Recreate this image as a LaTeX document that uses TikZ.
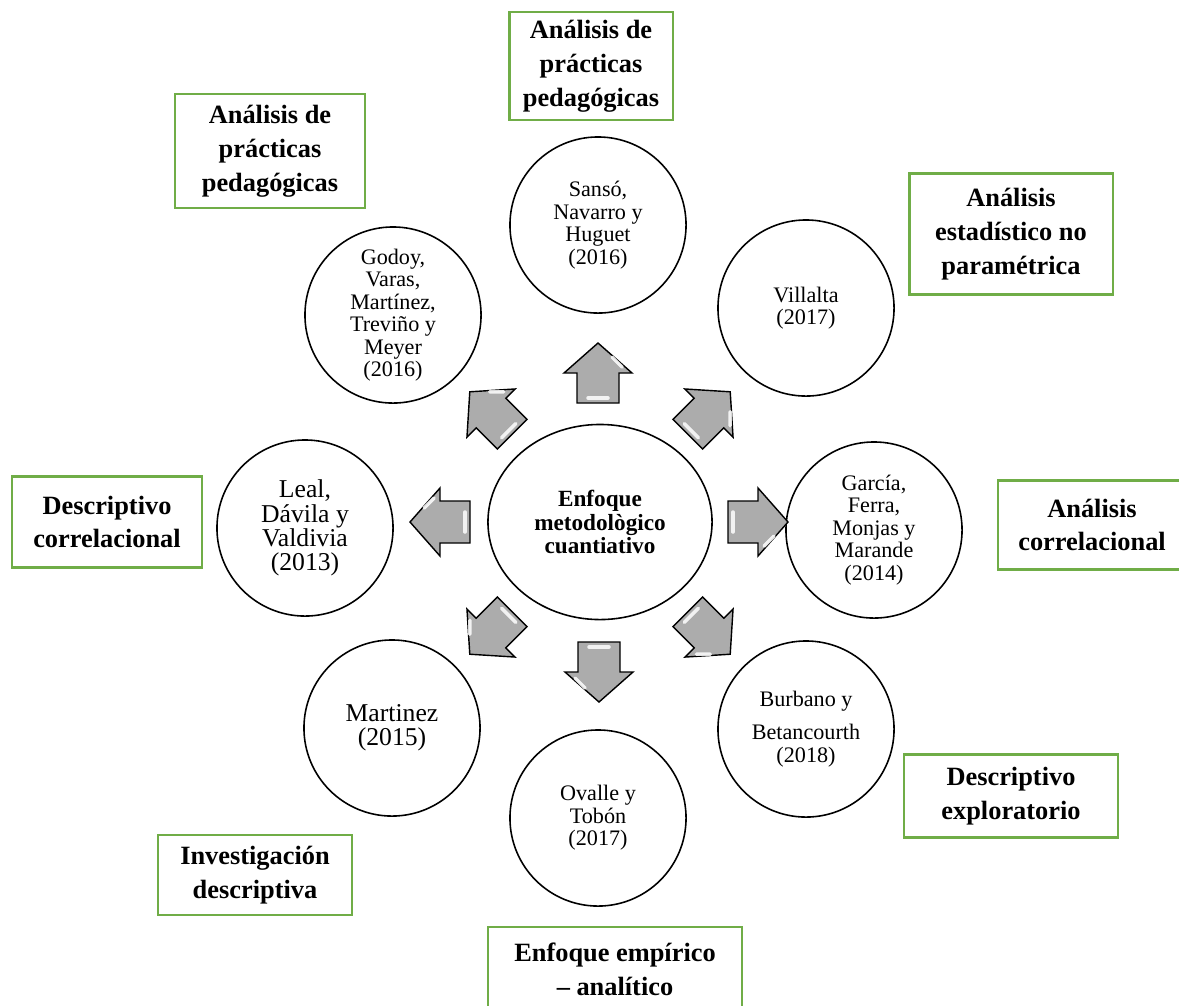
\documentclass[tikz,border=0pt]{standalone}
\usepackage{fontspec}
\setmainfont{Liberation Serif}
\usetikzlibrary{shapes.geometric}
\definecolor{cajaverde}{RGB}{112,173,71}
\definecolor{grisflecha}{RGB}{172,172,172}

\tikzset{
  autor/.style={circle, draw, line width=0.45pt, minimum size=1.76cm, inner sep=0pt, align=center, font=\fontsize{6.3}{6.4}\selectfont},
  autorgrande/.style={autor, font=\fontsize{7.3}{6.9}\selectfont},
  centro/.style={ellipse, draw, line width=0.45pt, minimum width=2.24cm, minimum height=1.95cm, inner sep=0pt, align=center, font=\bfseries\fontsize{6.6}{6.7}\selectfont},
  caja/.style={draw=cajaverde, line width=0.6pt, inner sep=0pt, align=center, font=\bfseries\fontsize{7.5}{9.6}\selectfont},
  flecha/.pic={
    \draw[fill=grisflecha, line width=0.4pt] (-30,-21) -- (0,-21) -- (0,-34) -- (30,0) -- (0,34) -- (0,21) -- (-30,21) -- cycle;
    \draw[white, opacity=0.85, line width=1pt, line cap=round] (-25,-10) -- (-25,10);
    \draw[white, opacity=0.85, line width=1pt, line cap=round] (6,24) -- (16,14);
  }
}

\begin{document}
\begin{tikzpicture}[x=0.01cm, y=-0.01cm]
  \useasboundingbox (0,0) rectangle (1179,1005);

  % centro y autores
  \node[centro] (enfoque) at (600,522) {Enfoque\\metodològico\\cuantiativo};
  \node[autor] (sanso) at (598,225) {Sansó,\\Navarro y\\Huguet\\(2016)};
  \node[autor] (godoy) at (393,315) {Godoy,\\Varas,\\Martínez,\\Treviño y\\Meyer\\(2016)};
  \node[autor] (villalta) at (806,308) {Villalta\\(2017)};
  \node[autorgrande] (leal) at (305,528) {Leal,\\Dávila y\\Valdivia\\(2013)};
  \node[autor] (garcia) at (874,530) {García,\\Ferra,\\Monjas y\\Marande\\(2014)};
  \node[autorgrande] (martinez) at (392,728) {Martinez\\(2015)};
  \node[autor] (ovalle) at (598,818) {Ovalle y\\Tobón\\(2017)};
  \node[autor] (burbano) at (806,729) {Burbano y\\[3pt]Betancourth\\(2018)};

  % flechas
  \pic[rotate=90] at (598,373) {flecha};
  \pic[rotate=135] at (491,413) {flecha};
  \pic[rotate=45] at (709,413) {flecha};
  \pic[rotate=180] at (440,522) {flecha};
  \pic[rotate=0] at (758,522) {flecha};
  \pic[rotate=225] at (491,633) {flecha};
  \pic[rotate=270] at (599,672) {flecha};
  \pic[rotate=315] at (709,633) {flecha};

  % cajas
  \node[caja, minimum width=1.63cm, minimum height=1.08cm] (cajasup) at (591,66) {Análisis de\\prácticas\\pedagógicas};
  \node[caja, minimum width=1.90cm, minimum height=1.14cm] (cajasupizq) at (270,151) {Análisis de\\prácticas\\pedagógicas};
  \node[caja, minimum width=2.03cm, minimum height=1.21cm] (cajasupder) at (1011,234) {Análisis\\estadístico no\\paramétrica};
  \node[caja, minimum width=1.90cm, minimum height=0.91cm] (cajaizq) at (107,522) {Descriptivo\\correlacional};
  \node[caja, minimum width=1.88cm, minimum height=0.89cm] (cajader) at (1092,525) {Análisis\\correlacional};
  \node[caja, minimum width=2.14cm, minimum height=0.83cm] (cajainfder) at (1011,796) {Descriptivo\\exploratorio};
  \node[caja, minimum width=1.94cm, minimum height=0.80cm] (cajainfizq) at (255,875) {Investigación\\descriptiva};
  \node[caja, minimum width=2.53cm, minimum height=0.84cm] (cajainf) at (615,969) {Enfoque empírico\\– analítico};
\end{tikzpicture}
\end{document}
